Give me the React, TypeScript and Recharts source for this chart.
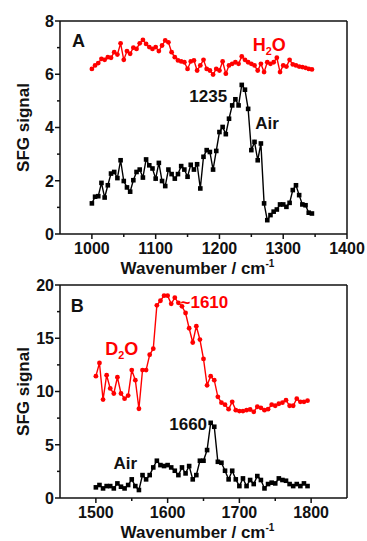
import { LineChart, Line, XAxis, YAxis, ReferenceLine, ReferenceDot } from "recharts";

const FONT = '"Liberation Sans", Arial, Helvetica, sans-serif';
const RED = "#ff0000";
const INK = "#111";

// panel A: wavenumbers and signals
const wnA = [
  1000, 1005, 1010, 1015, 1020, 1025, 1030, 1035, 1040, 1045,
  1050, 1055, 1060, 1065, 1070, 1075, 1080, 1085, 1090, 1095,
  1100, 1105, 1110, 1115, 1120, 1125, 1130, 1135, 1140, 1145,
  1150, 1155, 1160, 1165, 1170, 1175, 1180, 1185, 1190, 1195,
  1200, 1205, 1210, 1215, 1220, 1225, 1230, 1235, 1240, 1245,
  1250, 1255, 1260, 1265, 1270, 1275, 1280, 1285, 1290, 1295,
  1300, 1305, 1310, 1315, 1320, 1325, 1330, 1335, 1340, 1345,
];
const airA = [
  1.15, 1.4, 1.42, 1.92, 1.37, 1.83, 2.27, 2.33, 2.1, 2.77,
  1.99, 1.75, 1.59, 2.02, 2.33, 2.42, 2.12, 2.8, 2.58, 2.46,
  2.08, 2.67, 1.99, 1.8, 2.42, 2.25, 2.08, 2.25, 2.55, 2.42,
  2.15, 2.6, 2.42, 2.62, 1.71, 2.9, 3.15, 3.08, 2.42, 3.12,
  3.83, 4.02, 3.75, 4.33, 4.83, 5.06, 4.83, 5.6, 5.42, 4.7,
  3.15, 3.46, 2.77, 3.4, 1.15, 0.52, 0.71, 0.84, 0.92, 1.11,
  1.11, 1.02, 1.17, 1.65, 1.83, 1.46, 1.11, 1.08, 0.8, 0.77,
];
const h2oA = [
  6.2, 6.33, 6.42, 6.58, 6.54, 6.64, 6.62, 6.83, 6.74, 7.16,
  6.54, 6.87, 6.77, 7.0, 6.95, 7.16, 7.29, 7.14, 7.02, 6.95,
  7.02, 6.87, 7.08, 7.27, 7.2, 6.83, 6.64, 6.52, 6.48, 6.45,
  6.2, 6.48, 6.52, 6.14, 6.33, 6.54, 6.2, 6.14, 5.99, 6.2,
  6.14, 6.48, 6.02, 6.33, 6.39, 6.45, 6.39, 6.67, 6.54, 6.45,
  6.39, 6.33, 6.14, 6.39, 6.08, 6.45, 6.39, 6.45, 6.62, 6.08,
  6.33, 6.29, 6.54, 6.37, 6.33, 6.29, 6.27, 6.24, 6.2, 6.18,
];

// panel B
const wnB = [
  1500, 1505, 1510, 1515, 1520, 1525, 1530, 1535, 1540, 1545,
  1550, 1555, 1560, 1565, 1570, 1575, 1580, 1585, 1590, 1595,
  1600, 1605, 1610, 1615, 1620, 1625, 1630, 1635, 1640, 1645,
  1650, 1655, 1660, 1665, 1670, 1675, 1680, 1685, 1690, 1695,
  1700, 1705, 1710, 1715, 1720, 1725, 1730, 1735, 1740, 1745,
  1750, 1755, 1760, 1765, 1770, 1775, 1780, 1785, 1790, 1795,
];
const d2oB = [
  11.44, 12.68, 9.24, 11.53, 10.29, 9.81, 11.34, 9.81, 9.33, 9.62,
  12.01, 11.06, 8.38, 12.01, 12.01, 13.45, 14.02, 18.09, 18.52, 19.0,
  19.0, 18.23, 18.81, 18.33, 18.0, 17.37, 15.94, 14.6, 16.13, 14.88,
  13.06, 10.58, 11.44, 11.06, 9.5, 8.95, 8.76, 8.34, 9.03, 8.25,
  8.16, 8.16, 8.25, 8.31, 8.09, 8.57, 8.47, 8.25, 8.34, 8.76,
  8.66, 8.85, 8.95, 9.19, 8.66, 8.66, 9.33, 9.03, 9.03, 9.14,
];
const airB = [
  1.0, 1.22, 0.9, 1.12, 1.12, 0.9, 1.37, 1.06, 0.9, 1.22,
  1.75, 1.12, 0.75, 2.15, 1.75, 2.15, 2.87, 3.5, 3.09, 3.0,
  3.09, 2.87, 2.56, 2.15, 2.87, 2.31, 3.0, 1.75, 2.15, 3.5,
  3.5, 4.5, 7.06, 6.69, 3.4, 3.31, 2.56, 1.75, 2.56, 1.75,
  1.12, 1.84, 1.12, 1.69, 1.31, 2.06, 1.69, 0.9, 1.31, 1.44,
  1.37, 1.84, 1.69, 1.62, 1.31, 1.12, 1.31, 1.12, 1.37, 1.12,
];

// axis ticks (majors get labels)
const xTicksA = [1000, 1050, 1100, 1150, 1200, 1250, 1300, 1350, 1400];
const yTicksA = [0, 1, 2, 3, 4, 5, 6, 7, 8];
const xTicksB = [1500, 1550, 1600, 1650, 1700, 1750, 1800];
const yTicksB = [0, 2.5, 5, 7.5, 10, 12.5, 15, 17.5, 20];

const dataA = wnA.map((wn, i) => ({ wn, air: airA[i], water: h2oA[i] }));
const dataB = wnB.map((wn, i) => ({ wn, air: airB[i], water: d2oB[i] }));

const XTick = (p: any) => {
  const major = p.payload.value % p.step === 0;
  return (
    <g>
      <line x1={p.x} y1={p.y} x2={p.x} y2={p.y + (major ? 5 : 3)} stroke={INK} strokeWidth={1.5} />
      {major && (
        <text x={p.x} y={p.y + 20} textAnchor="middle" fontFamily={FONT} fontWeight="bold" fontSize={16} fill={INK}>
          {p.payload.value}
        </text>
      )}
    </g>
  );
};

const YTick = (p: any) => {
  const major = p.payload.value % p.step === 0;
  return (
    <g>
      <line x1={p.x} y1={p.y} x2={p.x - (major ? 5 : 3)} y2={p.y} stroke={INK} strokeWidth={1.5} />
      {major && (
        <text x={p.x - 6} y={p.y} dy="0.36em" textAnchor="end" fontFamily={FONT} fontWeight="bold" fontSize={16} fill={INK}>
          {p.payload.value}
        </text>
      )}
    </g>
  );
};

const squareDot = (p: any) => (
  <rect key={`s${p.index}`} x={p.cx - 2.3} y={p.cy - 2.3} width={4.6} height={4.6} fill="#000" />
);
const roundDot = (p: any) => <circle key={`c${p.index}`} cx={p.cx} cy={p.cy} r={2.4} fill={RED} />;

type Note = { x: number; y: number; text: string; sub?: [string, string]; color: string; anchor: "start" | "middle" | "end"; size: number };

const noteContent = (n: Note) => (props: any) => {
  const vb = props.viewBox || {};
  const cx = vb.x + (vb.width || 0) / 2;
  const cy = vb.y + (vb.height || 0) / 2;
  return (
    <text x={cx} y={cy} dy="0.36em" textAnchor={n.anchor} fontFamily={FONT} fontWeight="bold" fontSize={n.size} fill={n.color}>
      {n.sub ? (
        <>
          <tspan>{n.sub[0]}</tspan>
          <tspan fontSize={n.size * 0.6} dy={4}>2</tspan>
          <tspan dy={-4}>{n.sub[1]}</tspan>
        </>
      ) : (
        n.text
      )}
    </text>
  );
};

const notesA: Note[] = [
  { x: 979, y: 7.27, text: "A", color: INK, anchor: "middle", size: 18 },
  { x: 1278, y: 7.13, text: "H2O", sub: ["H", "O"], color: RED, anchor: "middle", size: 18 },
  { x: 1212, y: 5.2, text: "1235", color: INK, anchor: "end", size: 17 },
  { x: 1256, y: 4.18, text: "Air", color: INK, anchor: "start", size: 17 },
];
const notesB: Note[] = [
  { x: 1474, y: 18.09, text: "B", color: INK, anchor: "middle", size: 18 },
  { x: 1618, y: 18.46, text: "~1610", color: RED, anchor: "start", size: 17 },
  { x: 1536, y: 14.0, text: "D2O", sub: ["D", "O"], color: RED, anchor: "middle", size: 18 },
  { x: 1655, y: 6.94, text: "1660", color: INK, anchor: "end", size: 17 },
  { x: 1541, y: 3.33, text: "Air", color: INK, anchor: "middle", size: 17 },
];

const yLabel = (props: any) => {
  const vb = props.viewBox;
  const cx = vb.x + 23;
  const cy = vb.y + vb.height / 2;
  return (
    <text x={cx} y={cy} dy="0.36em" transform={`rotate(-90 ${cx} ${cy})`} textAnchor="middle" fontFamily={FONT} fontWeight="bold" fontSize={17} fill={INK}>
      SFG signal
    </text>
  );
};

const xLabel = (props: any) => {
  const vb = props.viewBox;
  return (
    <text x={vb.x + vb.width / 2 - 6} y={vb.y + 40} textAnchor="middle" fontFamily={FONT} fontWeight="bold" fontSize={17} fill={INK}>
      Wavenumber / cm<tspan fontSize={10} dy={-7}>-1</tspan>
    </text>
  );
};

function Panel(props: {
  data: any[];
  height: number;
  top: number;
  xDomain: [number, number];
  yDomain: [number, number];
  xTicks: number[];
  yTicks: number[];
  xStep: number;
  yStep: number;
  xAxisHeight: number;
  notes: Note[];
}) {
  const { data, xDomain, yDomain } = props;
  return (
    <LineChart width={367} height={props.height} data={data} margin={{ top: props.top, right: 20, left: 0, bottom: 0 }}>
      <XAxis
        dataKey="wn"
        type="number"
        domain={xDomain}
        ticks={props.xTicks}
        interval={0}
        height={props.xAxisHeight}
        tickSize={0}
        tickMargin={0}
        tickLine={false}
        axisLine={{ stroke: INK, strokeWidth: 1.5 }}
        tick={(p: any) => <XTick {...p} step={props.xStep} />}
        label={{ content: xLabel }}
      />
      <YAxis
        type="number"
        domain={yDomain}
        ticks={props.yTicks}
        interval={0}
        width={60}
        tickSize={0}
        tickMargin={0}
        tickLine={false}
        axisLine={{ stroke: INK, strokeWidth: 1.5 }}
        tick={(p: any) => <YTick {...p} step={props.yStep} />}
        label={{ content: yLabel }}
      />
      <ReferenceLine y={yDomain[1]} stroke={INK} strokeWidth={1.5} />
      <ReferenceLine x={xDomain[1]} stroke={INK} strokeWidth={1.5} />
      <Line dataKey="water" stroke={RED} strokeWidth={1.4} dot={roundDot} activeDot={false} isAnimationActive={false} />
      <Line dataKey="air" stroke="#000" strokeWidth={1.4} dot={squareDot} activeDot={false} isAnimationActive={false} />
      {props.notes.map((n, i) => (
        <ReferenceDot key={i} x={n.x} y={n.y} r={0} stroke="none" fill="none" label={{ content: noteContent(n) }} />
      ))}
    </LineChart>
  );
}

export default function App() {
  return (
    <div style={{ position: "absolute", left: 0, top: 0, width: 367, height: 541, background: "#fff" }}>
      <div style={{ position: "absolute", left: 0, top: 0 }}>
        <Panel
          data={dataA}
          height={280}
          top={21}
          xDomain={[950, 1400]}
          yDomain={[0, 8]}
          xTicks={xTicksA}
          yTicks={yTicksA}
          xStep={100}
          yStep={2}
          xAxisHeight={46}
          notes={notesA}
        />
      </div>
      <div style={{ position: "absolute", left: 0, top: 268 }}>
        <Panel
          data={dataB}
          height={273}
          top={17}
          xDomain={[1450, 1850]}
          yDomain={[0, 20]}
          xTicks={xTicksB}
          yTicks={yTicksB}
          xStep={100}
          yStep={5}
          xAxisHeight={43}
          notes={notesB}
        />
      </div>
    </div>
  );
}
